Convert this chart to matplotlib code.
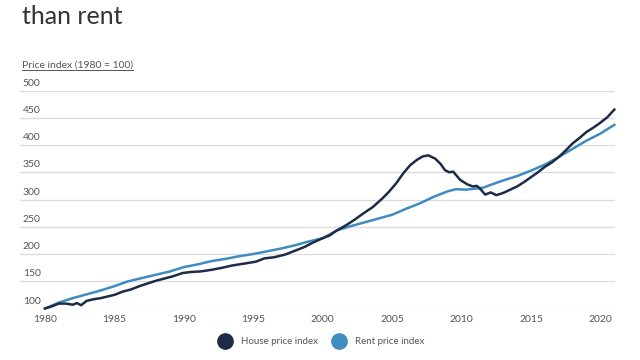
import matplotlib.pyplot as plt
from matplotlib.lines import Line2D

plt.rcParams['font.family'] = ['Lato', 'DejaVu Sans']

# House price index (1980 = 100).
house_years = [1980.0, 1980.5, 1981.0, 1981.5, 1982.0, 1982.3, 1982.6, 1983.0, 1983.5,
               1984.0, 1984.5, 1985.0, 1985.6, 1986.2, 1986.8, 1987.4, 1988.0, 1988.6,
               1989.2, 1989.9, 1990.5, 1991.2, 1992.0, 1992.8, 1993.5, 1994.5, 1995.2,
               1995.8, 1996.5, 1997.3, 1998.0, 1998.7, 1999.3, 2000.0, 2000.5, 2001.0,
               2001.7, 2002.3, 2002.9, 2003.6, 2004.3, 2004.8, 2005.3, 2005.8, 2006.3,
               2006.8, 2007.2, 2007.6, 2008.1, 2008.5, 2008.8, 2009.1, 2009.4, 2009.9,
               2010.4, 2010.8, 2011.1, 2011.4, 2011.7, 2012.1, 2012.5, 2013.0, 2013.5,
               2014.0, 2014.5, 2015.0, 2015.5, 2016.0, 2016.5, 2017.0, 2017.5, 2018.0,
               2018.5, 2019.0, 2019.5, 2020.0, 2020.5, 2021.0]
house = [100, 104, 109, 109, 107, 110, 106, 114, 117,
         119, 122, 125, 131, 135, 141, 146, 151, 155,
         159, 165, 167, 168, 171, 175, 179, 183, 186,
         192, 194, 199, 206, 213, 221, 229, 234, 243,
         253, 263, 274, 286, 302, 315, 330, 348, 363,
         373, 379, 381, 375, 365, 354, 350, 351, 336,
         328, 324, 325, 318, 309, 313, 308, 312, 318,
         324, 332, 341, 350, 360, 368, 378, 390, 403,
         413, 424, 432, 441, 451, 465]

# Rent price index.
rent_years = [1980, 1981, 1982, 1983, 1984, 1985, 1986, 1987, 1988, 1989, 1990,
              1991, 1992, 1993, 1994, 1995, 1996, 1997, 1998, 1999, 2000, 2001,
              2002, 2003, 2004, 2005, 2006, 2007, 2008, 2009, 2009.6, 2010.3,
              2011, 2011.6, 2012, 2013, 2014, 2015, 2016, 2017, 2018, 2019, 2020, 2021]
rent = [100, 111, 119, 126, 133, 141, 150, 156, 162, 168, 176,
        181, 187, 191, 196, 200, 205, 210, 216, 223, 229, 243,
        251, 258, 265, 272, 283, 293, 305, 315, 319, 318,
        320, 322, 326, 335, 343, 353, 364, 378, 393, 408, 421, 437]

yticks = [100, 150, 200, 250, 300, 350, 400, 450, 500]
xticks = [1980, 1985, 1990, 1995, 2000, 2005, 2010, 2015, 2020]

house_color = '#1d2b46'
rent_color = '#3f8cc0'
text_color = '#555555'

fig = plt.figure(figsize=(6.4, 3.6), dpi=100)
fig.patch.set_facecolor('white')
ax = fig.add_axes([20 / 640, (360 - 308.5) / 360, 595 / 640, 218 / 360])

ax.plot(house_years, house, color=house_color, lw=1.8, clip_on=False, zorder=3)
ax.plot(rent_years, rent, color=rent_color, lw=1.8, clip_on=False, zorder=2)

ax.set_xlim(1978.2, 2021.05)
ax.set_ylim(100, 500)
ax.set_yticks(yticks)
ax.set_xticks(xticks)
ax.set_yticklabels([])
ax.tick_params(axis='both', length=0)
ax.tick_params(axis='x', pad=5, labelsize=7.5, labelcolor=text_color)
ax.grid(axis='y', color='#dddddd', lw=1)
ax.set_axisbelow(True)
for s in ax.spines.values():
    s.set_visible(False)

# y labels sit on top of the gridlines, left aligned
for v in yticks:
    ax.annotate(str(v), xy=(0, v), xycoords=('axes fraction', 'data'),
                xytext=(2, 2), textcoords='offset points',
                ha='left', va='bottom', fontsize=7.5, color=text_color)

fig.text(22 / 640, 1 - 24 / 360, 'than rent', fontsize=18, color='#333333',
         ha='left', va='baseline')

lbl = fig.text(22 / 640, 1 - 65 / 360, 'Price index (1980 = 100)', fontsize=7.5,
               color=text_color, ha='left', va='center')
fig.canvas.draw()
bb = lbl.get_window_extent().transformed(fig.transFigure.inverted())
fig.add_artist(Line2D([bb.x0, bb.x1], [bb.y0 - 0.002, bb.y0 - 0.002],
                      transform=fig.transFigure, color=text_color, lw=0.7))

handles = [Line2D([], [], ls='none', marker='o', markersize=11, color=house_color),
           Line2D([], [], ls='none', marker='o', markersize=11, color=rent_color)]
fig.legend(handles, ['House price index', 'Rent price index'], loc='center',
           bbox_to_anchor=(0.5, 1 - 342 / 360), ncol=2, frameon=False,
           fontsize=7, labelcolor=text_color, handletextpad=0.6, columnspacing=1.2)

fig.savefig('out.png', dpi=100)
